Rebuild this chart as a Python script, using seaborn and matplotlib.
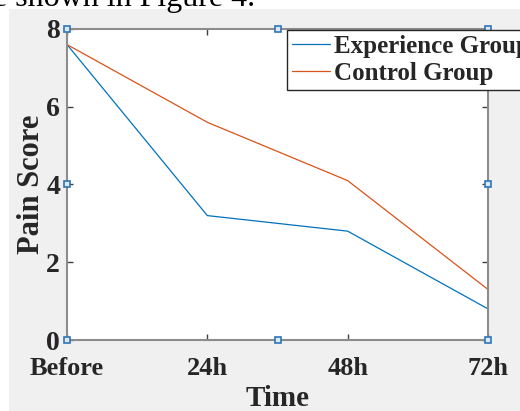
import matplotlib
matplotlib.use('Agg')
import matplotlib.pyplot as plt
from matplotlib.patches import Rectangle
import pandas as pd
import seaborn as sns

# values
time_points = ['Before', '24h', '48h', '72h']
experience_group = [7.6, 3.2, 2.8, 0.8]
control_group = [7.6, 5.6, 4.1, 1.3]
y_ticks = [0, 2, 4, 6, 8]

data = pd.DataFrame({
    'Time': time_points * 2,
    'Pain Score': experience_group + control_group,
    'Group': ['Experience Group'] * 4 + ['Control Group'] * 4,
})

sns.set_style('ticks')
plt.rcParams['font.family'] = ['Liberation Serif', 'DejaVu Serif']
plt.rcParams['font.weight'] = 'bold'

W, H = 520, 411
fig = plt.figure(figsize=(W / 100, H / 100), dpi=100, facecolor='white')
# gray MATLAB figure window behind the axes
fig.patches.append(Rectangle((9 / W, 0), 1 - 9 / W, 1 - 9 / H, transform=fig.transFigure,
                             facecolor='#f0f0f0', edgecolor='none', zorder=-10))
# clipped caption line of the surrounding document
fig.text(-0.014, 1 - 6 / H, 'e shown in Figure 4.', fontsize=23, fontweight='normal',
         va='baseline', ha='left', color='black')

ax = fig.add_axes([67 / W, 1 - 340 / H, 421 / W, 311 / H])
ax.set_facecolor('white')

sns.lineplot(data=data, x='Time', y='Pain Score', hue='Group',
             palette={'Experience Group': '#0072BD', 'Control Group': '#D95319'},
             linewidth=0.9, ax=ax, legend=True)

ax.set_xlim(0, len(time_points) - 1)
ax.set_ylim(0, 8)
ax.set_yticks(y_ticks)
ax.set_xlabel('Time', fontsize=21, fontweight='bold', color='#262626', labelpad=4)
ax.set_ylabel('Pain Score', fontsize=22, fontweight='bold', color='#262626', labelpad=0)
ax.tick_params(axis='both', which='both', direction='in', length=4, width=1,
               color='#404040', labelcolor='#262626', top=True, right=True)
ax.tick_params(axis='x', labelsize=19, pad=12)
ax.tick_params(axis='y', labelsize=20, pad=5)
for lab in ax.get_xticklabels() + ax.get_yticklabels():
    lab.set_fontweight('bold')
for sp in ax.spines.values():
    sp.set_color('#8c8c8c')
    sp.set_linewidth(1.5)
    sp.set_visible(True)

# selection handles around the axes box
for hx in (0, 0.5, 1):
    for hy in (0, 0.5, 1):
        if hx == 0.5 and hy == 0.5:
            continue
        ax.plot(hx, hy, marker='s', markersize=5, markerfacecolor='#dce9f5',
                markeredgecolor='#2e75b6', markeredgewidth=1.2,
                transform=ax.transAxes, clip_on=False, zorder=10)

handles, labels = ax.get_legend_handles_labels()
leg = ax.legend(handles, labels, loc='upper left', bbox_to_anchor=(287 / W, 1 - 30 / H),
                bbox_transform=fig.transFigure, frameon=True, fancybox=False,
                prop={'size': 18, 'weight': 'bold'}, handlelength=1.5,
                handletextpad=0.2, borderpad=0.2, labelspacing=0.15, borderaxespad=0)
leg.get_frame().set_edgecolor('#262626')
leg.get_frame().set_linewidth(1.0)
leg.get_frame().set_alpha(1)
leg.set_zorder(20)

fig.savefig('out.png', dpi=100, facecolor='white')
